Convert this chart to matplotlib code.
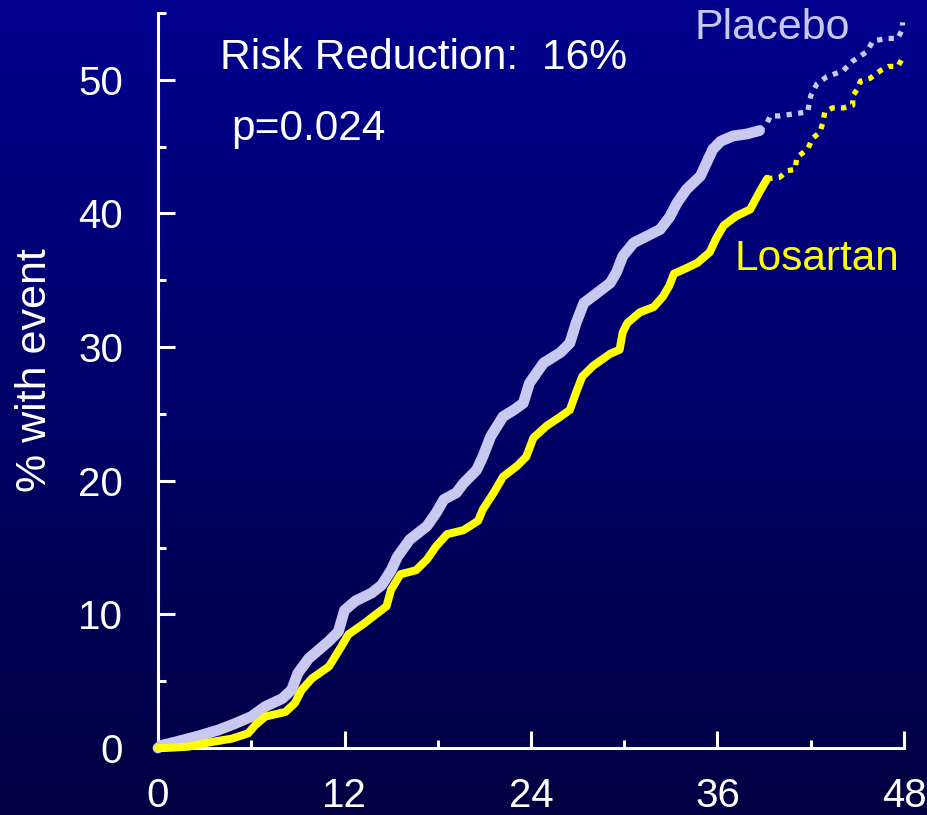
import matplotlib
matplotlib.use("Agg")
import numpy as np
from matplotlib import pyplot as plt
from matplotlib.colors import LinearSegmentedColormap
from matplotlib.ticker import MultipleLocator

plt.rcParams["font.family"] = ["Liberation Sans", "DejaVu Sans"]

PLACEBO_COLOR = "#c8c8f0"
LOSARTAN_COLOR = "#ffff00"
BG_TOP = "#00008e"
BG_BOTTOM = "#000042"

# follow-up (months) vs cumulative % with event, observed part
placebo_months = [0, 0.24, 1.3, 2.6, 3.9, 5.0, 6.0, 6.9, 8.0, 8.6, 9.0, 9.7, 11.0, 11.6, 12.0,
                  12.7, 13.75, 14.4, 15.0, 15.4, 16.2, 17.3, 17.9, 18.4, 19.2, 19.65, 20.5,
                  20.9, 21.4, 22.2, 22.9, 23.5, 23.9, 24.8, 25.9, 26.5, 26.9, 27.4, 28.2,
                  29.1, 29.5, 29.9, 30.6, 31.45, 32.3, 32.9, 33.4, 34.0, 34.9, 35.3, 35.7,
                  36.2, 37.0, 37.9, 38.7]
placebo_pct = [0, 0.2, 0.5, 0.9, 1.35, 1.85, 2.35, 3.1, 3.7, 4.35, 5.6, 6.7, 8.0, 8.7, 10.3,
               11.0, 11.6, 12.2, 13.3, 14.3, 15.6, 16.6, 17.6, 18.6, 19.1, 19.8, 20.8,
               21.8, 23.3, 24.8, 25.3, 25.8, 27.3, 28.8, 29.6, 30.3, 31.8, 33.3, 34.0,
               34.8, 35.6, 36.8, 37.8, 38.3, 38.8, 39.7, 40.8, 41.8, 42.8, 43.8, 44.8,
               45.4, 45.8, 45.95, 46.2]

losartan_months = [0, 0.45, 1.95, 3.2, 4.75, 5.8, 6.25, 6.9, 8.2, 8.8, 9.25, 9.9, 11.0, 11.8,
                   12.25, 13.3, 13.85, 14.7, 15.0, 15.6, 16.6, 17.3, 17.9, 18.6, 19.65, 20.6,
                   20.9, 21.6, 22.2, 23.1, 23.7, 24.15, 25.0, 25.9, 26.5, 26.9, 27.3, 28.0,
                   29.1, 29.7, 29.9, 30.2, 31.0, 31.9, 32.5, 32.9, 33.2, 33.8, 34.7, 35.5,
                   35.9, 36.4, 37.2, 38.1, 38.7, 39.2]
losartan_pct = [0, 0.0, 0.1, 0.4, 0.7, 1.1, 1.7, 2.35, 2.7, 3.35, 4.35, 5.2, 6.1, 7.6,
                8.5, 9.35, 9.85, 10.6, 11.85, 13.0, 13.3, 14.1, 15.1, 16.0, 16.3, 17.0,
                17.85, 19.1, 20.3, 21.1, 21.8, 23.2, 24.1, 24.8, 25.3, 26.6, 27.8, 28.6,
                29.5, 29.8, 31.1, 31.8, 32.6, 33.0, 33.8, 34.6, 35.5, 35.8, 36.3, 37.1,
                38.1, 39.1, 39.8, 40.3, 41.6, 42.6]

# sparse tail (few patients at risk), drawn dotted
placebo_tail_months = [38.7, 39.2, 39.4, 40.0, 41.2, 41.8, 42.0, 42.4, 43.0, 44.1, 44.7, 45.6,
                       46.0, 46.9, 47.6, 47.9, 47.9]
placebo_tail_pct = [46.2, 46.8, 47.3, 47.3, 47.5, 47.6, 48.8, 49.7, 50.2, 50.7, 51.4, 52.1,
                    52.9, 53.1, 53.1, 53.8, 54.3]

losartan_tail_months = [39.2, 40.0, 40.5, 41.0, 41.1, 41.8, 42.1, 42.6, 42.8, 42.9, 43.4,
                        44.1, 44.7, 44.7, 45.0, 45.2, 45.8, 46.5, 47.0, 47.6, 47.9]
losartan_tail_pct = [42.6, 42.7, 43.2, 43.3, 44.2, 44.8, 45.6, 46.1, 46.9, 47.6, 47.9,
                     47.9, 48.1, 48.8, 49.3, 49.9, 50.1, 50.7, 51.0, 51.0, 51.6]

fig = plt.figure(figsize=(9.27, 8.15), dpi=100)

# vertical navy gradient behind everything
bg = fig.add_axes([0, 0, 1, 1], zorder=-10)
grad_cmap = LinearSegmentedColormap.from_list("navy", [BG_BOTTOM, BG_TOP])
bg.imshow(np.linspace(0, 1, 256).reshape(-1, 1), aspect="auto", cmap=grad_cmap,
          origin="lower", extent=[0, 1, 0, 1])
bg.set_axis_off()

ax = fig.add_axes([158 / 927, 67 / 815, 746 / 927, 735 / 815])
ax.set_facecolor("none")

ax.plot(placebo_months, placebo_pct, color=PLACEBO_COLOR, lw=7.8,
        solid_joinstyle="round", solid_capstyle="round", clip_on=False, zorder=3)
ax.plot(losartan_months, losartan_pct, color=LOSARTAN_COLOR, lw=5.8,
        solid_joinstyle="round", solid_capstyle="round", clip_on=False, zorder=4)
ax.plot(placebo_tail_months, placebo_tail_pct, color=PLACEBO_COLOR, lw=3.8,
        linestyle=(0, (1, 1.2)), dash_capstyle="butt", clip_on=False, zorder=3)
ax.plot(losartan_tail_months, losartan_tail_pct, color=LOSARTAN_COLOR, lw=3.8,
        linestyle=(0, (1, 1.2)), dash_capstyle="butt", clip_on=False, zorder=4)

ax.set_xlim(0, 48)
ax.set_ylim(0, 55)
ax.xaxis.set_major_locator(MultipleLocator(12))
ax.xaxis.set_minor_locator(MultipleLocator(6))
ax.yaxis.set_major_locator(MultipleLocator(10))
ax.yaxis.set_minor_locator(MultipleLocator(5))

for side in ("top", "right"):
    ax.spines[side].set_visible(False)
for side in ("left", "bottom"):
    ax.spines[side].set_color("white")
    ax.spines[side].set_linewidth(2.2)

ax.tick_params(which="both", direction="in", color="white", width=2.2,
               labelcolor="white", labelsize=29)
ax.tick_params(axis="y", pad=25)
ax.tick_params(axis="x", pad=21)
ax.tick_params(which="major", length=12)
ax.tick_params(which="minor", length=6)

fig.text(35 / 927, 1 - 370 / 815, "% with event", rotation=90, color="white", fontsize=31,
         ha="center", va="center")
fig.text(220 / 927, 1 - 69 / 815, "Risk Reduction:  16%", color="white", fontsize=30.7,
         ha="left", va="baseline")
fig.text(231 / 927, 1 - 140 / 815, "p=0.024", color="white", fontsize=30.5,
         ha="left", va="baseline")
fig.text(694 / 927, 1 - 39 / 815, "Placebo", color=PLACEBO_COLOR, fontsize=31,
         ha="left", va="baseline")
fig.text(735 / 927, 1 - 270 / 815, "Losartan", color=LOSARTAN_COLOR, fontsize=30.5,
         ha="left", va="baseline")

fig.savefig("out.png", dpi=100)
